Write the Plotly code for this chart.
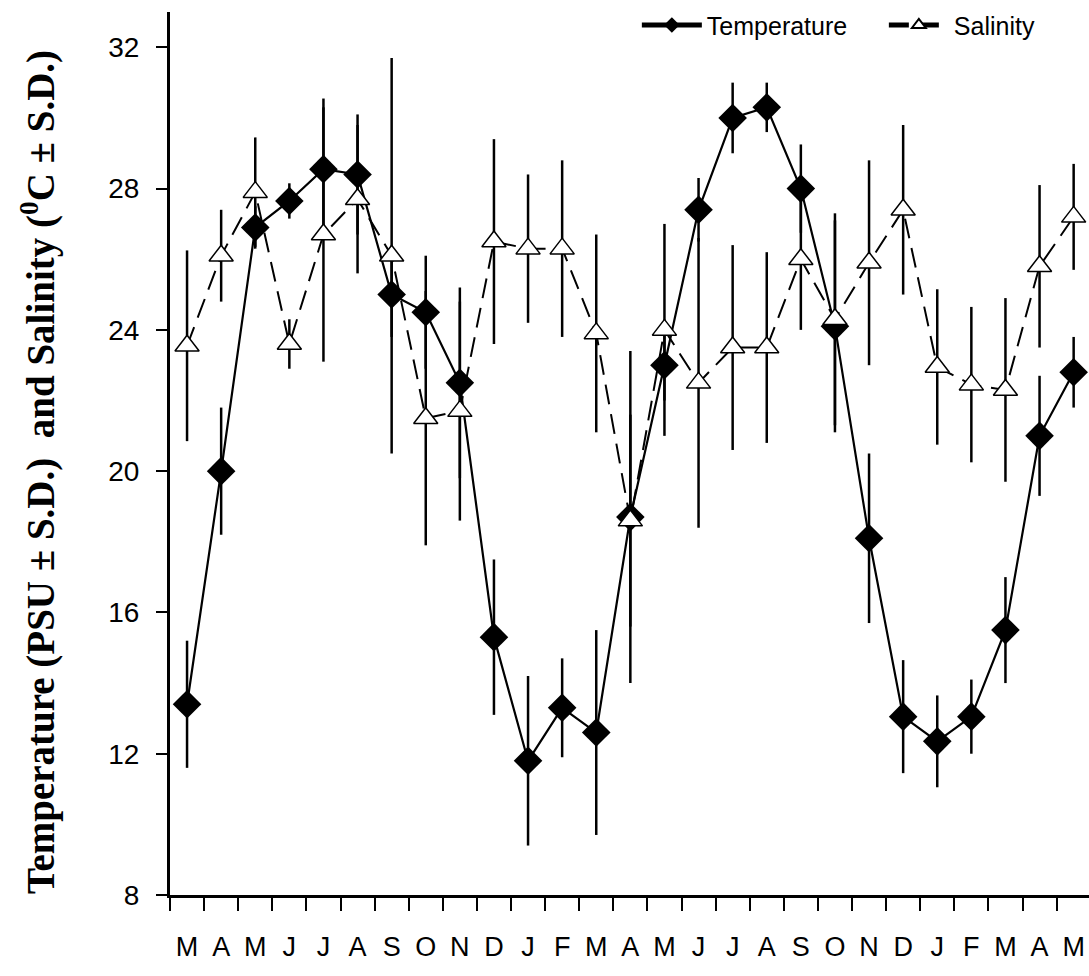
import plotly.graph_objects as go

months = ["M", "A", "M", "J", "J", "A", "S", "O", "N", "D", "J", "F", "M", "A",
          "M", "J", "J", "A", "S", "O", "N", "D", "J", "F", "M", "A", "M"]

temperature = [13.4, 20.0, 26.9, 27.65, 28.55, 28.4, 25.0, 24.5, 22.5, 15.3, 11.8, 13.3, 12.6, 18.7,
               23.0, 27.4, 30.0, 30.3, 28.0, 24.1, 18.1, 13.05, 12.35, 13.05, 15.5, 21.0, 22.8]
temperature_sd = [1.8, 1.8, 0.6, 0.5, 2.0, 1.7, 1.2, 1.6, 2.7, 2.2, 2.4, 1.4, 2.9, 4.7,
                  1.0, 0.9, 1.0, 0.7, 1.25, 3.0, 2.4, 1.6, 1.3, 1.05, 1.5, 1.7, 1.0]

salinity = [23.55, 26.1, 27.9, 23.6, 26.7, 27.7, 26.1, 21.5, 21.7, 26.5, 26.3, 26.3, 23.9, 18.6,
            24.0, 22.5, 23.5, 23.5, 26.0, 24.3, 25.9, 27.4, 22.95, 22.45, 22.3, 25.8, 27.2]
salinity_sd = [2.7, 1.3, 1.55, 0.7, 3.6, 2.1, 5.6, 3.6, 3.1, 2.9, 2.1, 2.5, 2.8, 3.0,
               3.0, 4.1, 2.9, 2.7, 2.0, 3.0, 2.9, 2.4, 2.2, 2.2, 2.6, 2.3, 1.5]

y_ticks = [8, 12, 16, 20, 24, 28, 32]

x = list(range(len(months)))
sans = "Liberation Sans, Arial, sans-serif"

fig = go.Figure()
fig.add_trace(go.Scatter(
    x=x, y=temperature, name="Temperature", mode="lines+markers",
    line=dict(color="black", width=2.2),
    marker=dict(symbol="diamond", size=22, color="black"),
    error_y=dict(type="data", array=temperature_sd, visible=True,
                 color="black", thickness=2.5, width=0),
))
fig.add_trace(go.Scatter(
    x=x, y=salinity, name="Salinity", mode="lines+markers",
    line=dict(color="black", width=2, dash="20px,10px"),
    marker=dict(symbol="triangle-up", size=21, color="white",
                line=dict(color="black", width=1.5)),
    error_y=dict(type="data", array=salinity_sd, visible=True,
                 color="black", thickness=2.5, width=0),
))

fig.update_layout(
    width=1089, height=976,
    margin=dict(l=170, r=0, t=12, b=81, autoexpand=False),
    paper_bgcolor="white", plot_bgcolor="white",
    showlegend=True,
    legend=dict(orientation="h", x=0.508, xanchor="left", y=0.985, yanchor="middle",
                font=dict(family=sans, size=25, color="black"),
                bgcolor="rgba(0,0,0,0)", itemwidth=60, itemsizing="constant",
                entrywidth=172),
    font=dict(family=sans, color="black"),
)

fig.update_xaxes(
    range=[-0.5, 26.45], automargin=False,
    tickmode="array", tickvals=x, ticktext=months,
    ticks="", ticklabelstandoff=26,
    tickfont=dict(family=sans, size=27, color="black"),
    minor=dict(tickmode="array", tickvals=[i - 0.5 for i in range(len(months) + 1)],
               ticks="outside", ticklen=13, tickwidth=2, tickcolor="black"),
    showline=True, linecolor="black", linewidth=3,
    showgrid=False, zeroline=False,
)
fig.update_yaxes(
    range=[8, 33], automargin=False,
    tickmode="array", tickvals=y_ticks,
    ticks="outside", ticklen=11, tickwidth=2, tickcolor="black",
    ticklabelstandoff=11,
    tickfont=dict(family=sans, size=28, color="black"),
    showline=True, linecolor="black", linewidth=3,
    showgrid=False, zeroline=False,
)

fig.add_annotation(
    text="<b>Temperature (PSU ± S.D.)  and Salinity (<sup>0</sup>C ± S.D.)</b>",
    xref="paper", yref="paper", x=-132 / 919, y=0.479,
    xanchor="center", yanchor="middle", textangle=-90, showarrow=False,
    font=dict(family="Liberation Serif, Times New Roman, serif", size=39, color="black"),
)

fig.write_html("out.html", config={"displayModeBar": False},
               post_script="document.body.style.margin='0';")
